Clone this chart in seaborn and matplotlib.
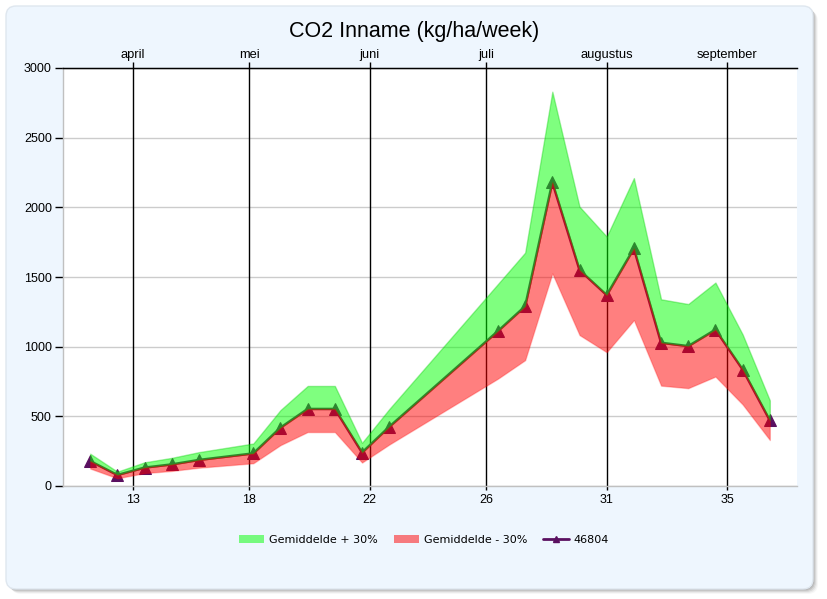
import pandas as pd
import seaborn as sns
import matplotlib.pyplot as plt
import matplotlib.dates as mdates
from matplotlib.patches import FancyBboxPatch, Patch
from matplotlib.lines import Line2D

# weekly measurements (tuesdays, 2023)
dates = ["2023-03-21", "2023-03-28", "2023-04-04", "2023-04-11", "2023-04-18",
         "2023-05-02", "2023-05-09", "2023-05-16", "2023-05-23", "2023-05-30",
         "2023-06-06", "2023-07-04", "2023-07-11", "2023-07-18", "2023-07-25",
         "2023-08-01", "2023-08-08", "2023-08-15", "2023-08-22", "2023-08-29",
         "2023-09-05", "2023-09-12"]
gemiddelde = [179, 79, 132, 155, 187, 234, 419, 553, 553, 240, 425,
              1112, 1290, 2180, 1550, 1370, 1705, 1028, 1004, 1122, 836, 471]
boven = [232, 103, 170, 202, 243, 305, 545, 718, 718, 310, 552,
         1450, 1675, 2830, 2005, 1790, 2210, 1340, 1306, 1460, 1088, 615]
onder = [125, 55, 92, 108, 131, 163, 293, 387, 387, 168, 297,
         770, 903, 1525, 1083, 960, 1190, 720, 702, 785, 585, 330]

month_starts = ["2023-04-01", "2023-05-01", "2023-06-01", "2023-07-01", "2023-08-01", "2023-09-01"]
month_names = ["april", "mei", "juni", "juli", "augustus", "september"]
week_labels = ["13", "18", "22", "26", "31", "35"]
y_ticks = [0, 500, 1000, 1500, 2000, 2500, 3000]

df = pd.DataFrame({"datum": pd.to_datetime(dates), "gem": gemiddelde,
                   "boven": boven, "onder": onder})
months = pd.to_datetime(month_starts)

sns.set_style("white")
plt.rcParams['font.family'] = ['Liberation Sans', 'DejaVu Sans']
plt.rcParams['text.color'] = 'black'
plt.rcParams['xtick.labelcolor'] = 'black'
plt.rcParams['ytick.labelcolor'] = 'black'

fig = plt.figure(figsize=(8.28, 5.99), dpi=100)
fig.patch.set_facecolor("white")

# panel with shadow (pixel coords)
for i, a in enumerate([0.12, 0.11, 0.09, 0.07, 0.05, 0.03]):
    fig.patches.append(FancyBboxPatch((6 + i, 10 - i), 807, 583, boxstyle="round,pad=0,rounding_size=10",
                                      transform=None, facecolor="black", edgecolor="none", alpha=a, zorder=-3))
fig.patches.append(FancyBboxPatch((6, 10), 807, 583, boxstyle="round,pad=0,rounding_size=10",
                                  transform=None, facecolor="#eef6fe", edgecolor="#dfe7ef", lw=1, zorder=-2))

ax = fig.add_axes([63 / 828, 1 - 486 / 599, (797 - 63) / 828, (486 - 68) / 599])
ax.set_facecolor("white")

purple = "#5a1060"
sns.lineplot(data=df, x="datum", y="gem", ax=ax, color=purple, lw=1.8, marker="^",
             markersize=8, markeredgecolor=purple, zorder=2)
ax.fill_between(df["datum"], df["gem"], df["boven"], facecolor=(0, 1, 0, 0.5),
                edgecolor=(0, 0.8, 0, 0.35), lw=1, zorder=3)
ax.fill_between(df["datum"], df["onder"], df["gem"], facecolor=(1, 0, 0, 0.5),
                edgecolor=(1, 0, 0, 0.25), lw=1, zorder=3)

ax.set_xlim(pd.Timestamp("2023-03-14"), pd.Timestamp("2023-09-19"))
ax.set_ylim(0, 3000)
ax.set_yticks(y_ticks)
ax.set_yticklabels([str(v) for v in y_ticks], fontsize=9)
ax.yaxis.grid(True, color="#cccccc", lw=1)
ax.set_axisbelow(True)
for m in months:
    ax.axvline(m, color="black", lw=1, zorder=1)
ax.set_xticks(months)
ax.set_xticklabels(week_labels, fontsize=9)
ax.set_xlabel("")
ax.set_ylabel("")
ax.tick_params(axis="y", length=6, width=1, color="black", pad=2, left=True)
ax.tick_params(axis="x", length=3, width=1, color="black", pad=3, bottom=True)

for s in ["left", "bottom"]:
    ax.spines[s].set_color("#c0c0c0")
    ax.spines[s].set_linewidth(1)
ax.spines["right"].set_visible(False)
ax.spines["top"].set_color("black")
ax.spines["top"].set_linewidth(1)

ax2 = ax.twiny()
ax2.set_xlim(ax.get_xlim())
ax2.set_xticks(mdates.date2num(months))
ax2.set_xticklabels(month_names, fontsize=9.3)
ax2.tick_params(axis="x", length=4, width=1, color="black", pad=1)
for s in ["left", "bottom", "right"]:
    ax2.spines[s].set_visible(False)
ax2.spines["top"].set_color("black")

fig.text(0.5, 1 - 31 / 599, "CO2 Inname (kg/ha/week)", ha="center", va="center", fontsize=15.5)

handles = [Patch(facecolor=(0, 1, 0, 0.5), edgecolor="none"),
           Patch(facecolor=(1, 0, 0, 0.5), edgecolor="none"),
           Line2D([], [], color=purple, lw=2, marker="^", markersize=5)]
labels = ["Gemiddelde + 30%", "Gemiddelde - 30%", "46804"]
fig.legend(handles, labels, loc="center", bbox_to_anchor=(0.512, 1 - 540 / 599), ncol=3,
           frameon=False, prop={"family": "DejaVu Sans", "size": 8},
           handlelength=2.3, handleheight=0.8, handletextpad=0.45, columnspacing=1.4)

plt.savefig("out.png", dpi=100)
plt.close()
